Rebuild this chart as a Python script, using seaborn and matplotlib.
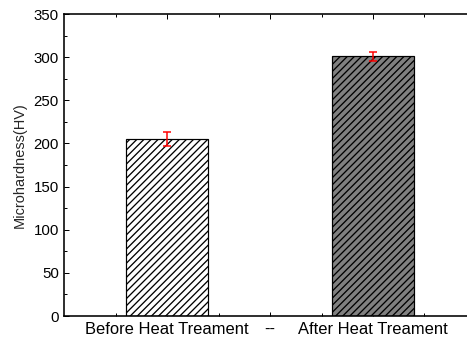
import seaborn as sns
import matplotlib.pyplot as plt
import pandas as pd

# Данные: микротвёрдость до и после термообработки
conditions = ['Before Heat Treament', 'After Heat Treament']
hardness = [205, 301]
errors = [8, 5]
tick_order = ['Before Heat Treament', '--', 'After Heat Treament']
bar_colors = {'Before Heat Treament': 'white', 'After Heat Treament': '#808080'}
bar_hatches = {'Before Heat Treament': '////', 'After Heat Treament': '////'}

df = pd.DataFrame({'condition': conditions, 'hv': hardness, 'err': errors})

DPI = 85
def pt(px):
    return px * 72 / DPI

sns.set_style("ticks")
plt.rcParams['font.family'] = ['Liberation Sans', 'DejaVu Sans']
plt.rcParams['hatch.linewidth'] = pt(1.3)
plt.rcParams['hatch.color'] = 'black'

fig = plt.figure(figsize=(467 / DPI, 340 / DPI), dpi=DPI)
ax = fig.add_axes([64 / 467, 24 / 340, 412 / 467, 302 / 340])

sns.barplot(data=df, x='condition', y='hv', order=tick_order, hue='condition',
            palette=bar_colors, width=0.8, edgecolor='black', linewidth=pt(1.2),
            errorbar=None, legend=False, ax=ax)

for cont, cond in zip(ax.containers, [c for c in tick_order if c in conditions]):
    for bar in cont:
        bar.set_hatch(bar_hatches[cond])

# Погрешности
xpos = [tick_order.index(c) for c in df['condition']]
ax.errorbar(xpos, df['hv'], yerr=df['err'], fmt='none', ecolor='red',
            elinewidth=pt(1.5), capsize=pt(4), capthick=pt(1.5), zorder=5)

ax.set_xlim(-1, 3)
ax.set_ylim(0, 350)
ax.set_yticks(range(0, 351, 50))
ax.set_yticks(range(25, 350, 50), minor=True)
ax.set_xticks([-0.5, 0.5, 1.5, 2.5], minor=True)

ax.set_xlabel('')
ax.set_ylabel('Microhardness(HV)', fontsize=pt(14.5), labelpad=pt(7))

ax.tick_params(which='both', direction='in', top=True, right=True,
               width=pt(1), labelsize=pt(15), color='black', labelcolor='black')
ax.tick_params(which='major', length=pt(4.5), pad=pt(5))
ax.tick_params(which='minor', length=pt(3))
ax.tick_params(axis='x', which='major', labelsize=pt(16.5), pad=pt(6))

for s in ax.spines.values():
    s.set_visible(True)
    s.set_linewidth(pt(1.6))
    s.set_color('black')

fig.savefig('out.png', dpi=DPI)
